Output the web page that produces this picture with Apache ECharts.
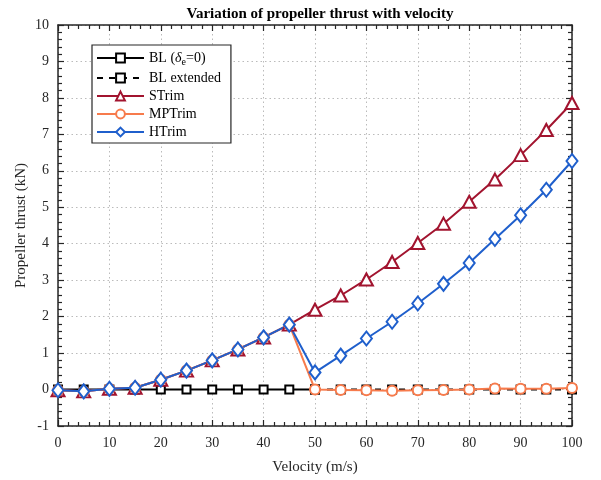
<!DOCTYPE html>
<html><head><meta charset="utf-8">
<script src="https://cdn.jsdelivr.net/npm/echarts@6/dist/echarts.min.js"></script>
<style>html,body{margin:0;padding:0;background:#fff}#c{width:601px;height:480px}</style>
</head><body><div id="c"></div>
<script>
var velocity = [0,5,10,15,20,25,30,35,40,45,50,55,60,65,70,75,80,85,90,95,100];
var blVel = [0,5,10,15,20,25,30,35,40,45,50];
var blThrust = [0,0,0,0,0,0,0,0,0,0,0];
var blExtVel = [50,55,60,65,70,75,80,85,90,95,100];
var blExtThrust = [0,0,0,0,0,0,0,0,0,0,0];
var sTrim = [-0.02,-0.05,0.02,0.05,0.27,0.52,0.8,1.1,1.43,1.78,2.19,2.58,3.02,3.5,4.02,4.55,5.15,5.76,6.43,7.12,7.86];
var mpTrim = [-0.02,-0.05,0.02,0.05,0.27,0.52,0.8,1.1,1.43,1.78,0,-0.01,-0.02,-0.03,-0.02,-0.01,0,0.03,0.02,0.02,0.04];
var hTrim = [-0.02,-0.05,0.02,0.05,0.27,0.52,0.8,1.1,1.43,1.78,0.47,0.93,1.4,1.86,2.36,2.9,3.47,4.13,4.78,5.48,6.27];
var xTicks = [0,10,20,30,40,50,60,70,80,90,100];
var yTicks = [-1,0,1,2,3,4,5,6,7,8,9,10];

function pairs(xs, ys){ return xs.map(function(x,i){return [x, ys[i]];}); }
var FONT = '"Liberation Serif", "DejaVu Serif", serif';
var chart = echarts.init(document.getElementById('c'), null, {renderer:'canvas'});
var axisBase = {
  type:'value', axisLine:{show:true, onZero:false, lineStyle:{color:'#262626', width:1.5}},
  axisTick:{show:true, inside:true, length:6, lineStyle:{color:'#262626', width:1.2}},
  minorTick:{show:true, splitNumber:5, length:4, lineStyle:{color:'#262626', width:1.2}},
  axisLabel:{color:'#262626', fontFamily:FONT, fontSize:14},
  splitLine:{show:false}
};
chart.setOption({
  backgroundColor:'#fff',
  animation:false,
  title:{text:'Variation of propeller thrust with velocity', left:315, top:2, textAlign:'center',
    textStyle:{fontFamily:FONT, fontSize:15, fontWeight:'bold', color:'#000'}},
  grid:{left:58, right:29, top:25, bottom:51, show:false},
  legend:{
    orient:'vertical', left:92, top:45, padding:[6,10,4,4], itemGap:4,
    itemWidth:47, itemHeight:11,
    backgroundColor:'#fff', borderColor:'#262626', borderWidth:1.2,
    textStyle:{fontFamily:FONT, fontSize:14, color:'#000',
      rich:{a:{fontFamily:FONT,fontSize:14,color:'#000'}, i:{fontFamily:FONT,fontSize:14,fontStyle:'italic',color:'#000'}, s:{fontFamily:FONT,fontSize:10,color:'#000',verticalAlign:'bottom',padding:[8,0,0,0]}}},
    formatter:function(n){ if(n==='BL (δe=0)') return '{a|BL (}{i|δ}{s|e}{a|=0)}'; return n; },
    data:['BL (δe=0)','BL extended','STrim','MPTrim','HTrim']
  },
  xAxis:[
    Object.assign({}, axisBase, {min:0, max:100, interval:10, position:'bottom',
      name:'Velocity (m/s)', nameLocation:'middle', nameGap:34,
      nameTextStyle:{fontFamily:FONT, fontSize:15, color:'#262626'},
      axisLabel:Object.assign({}, axisBase.axisLabel, {margin:10}),
      splitLine:{show:true, lineStyle:{color:'#bbbbbb', type:[1.5,3], width:1}}}),
    Object.assign({}, axisBase, {min:0, max:100, interval:10, position:'top', axisLabel:{show:false}})
  ],
  yAxis:[
    Object.assign({}, axisBase, {min:-1, max:10, interval:1, position:'left',
      name:'Propeller thrust (kN)', nameLocation:'middle', nameGap:29, nameMoveOverlap:false,
      nameTextStyle:{fontFamily:FONT, fontSize:15, color:'#262626'},
      axisLabel:Object.assign({}, axisBase.axisLabel, {margin:9}),
      splitLine:{show:true, lineStyle:{color:'#bbbbbb', type:[1.5,3], width:1}}}),
    Object.assign({}, axisBase, {min:-1, max:10, interval:1, position:'right', axisLabel:{show:false}})
  ],
  series:[
    {name:'BL (δe=0)', type:'line', data:pairs(blVel, blThrust), symbol:'emptyRect', symbolSize:8,
      lineStyle:{color:'#000', width:2}, itemStyle:{color:'#000', borderWidth:1.8}},
    {name:'BL extended', type:'line', data:pairs(blExtVel, blExtThrust), symbol:'emptyRect', symbolSize:8,
      lineStyle:{color:'#000', width:2, type:[6,6]}, itemStyle:{color:'#000', borderWidth:1.8}},
    {name:'STrim', type:'line', data:pairs(velocity, sTrim), symbol:'emptyTriangle', symbolSize:[13,12],
      lineStyle:{color:'#A2142F', width:2}, itemStyle:{color:'#A2142F', borderWidth:2}},
    {name:'MPTrim', type:'line', data:pairs(velocity, mpTrim), symbol:'emptyCircle', symbolSize:10,
      lineStyle:{color:'#F77B4C', width:2}, itemStyle:{color:'#F77B4C', borderWidth:2}},
    {name:'HTrim', type:'line', data:pairs(velocity, hTrim), symbol:'emptyDiamond', symbolSize:[11,14],
      lineStyle:{color:'#1F5FCC', width:2}, itemStyle:{color:'#1F5FCC', borderWidth:2}}
  ]
});
</script></body></html>
